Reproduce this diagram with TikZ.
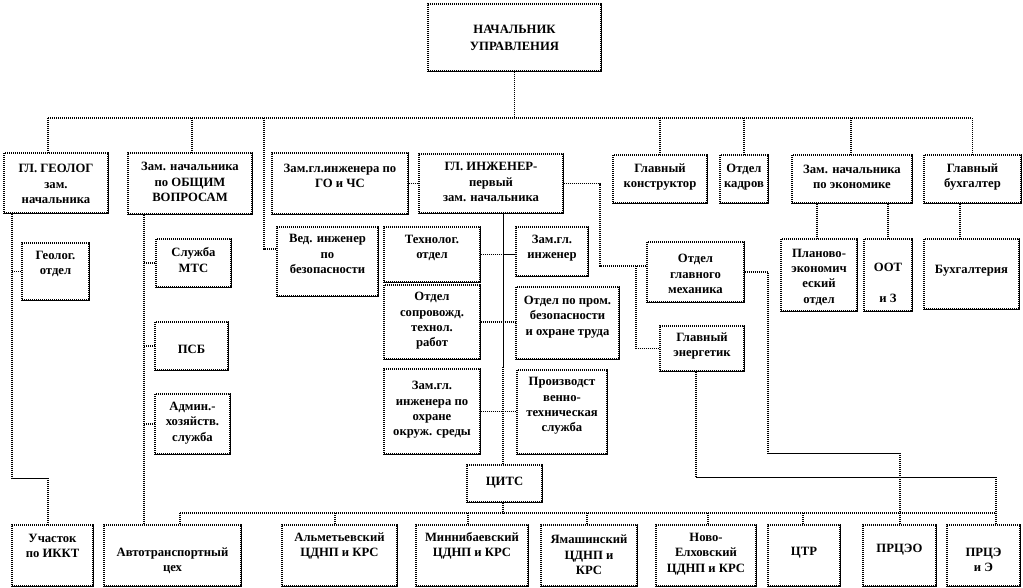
\documentclass[tikz,border=0pt]{standalone}
\usepackage{fontspec}
\setmainfont{Liberation Serif}
\begin{document}
\begin{tikzpicture}[x=0.75pt,y=-0.75pt,
  box/.style={draw=black, line width=0.8pt, dash pattern=on 0.75pt off 0.75pt, inner sep=0pt, fill=white},
  edge/.style={draw=black, line width=0.7pt},
  txt/.style={align=center, inner sep=0pt, font=\fontsize{9.5}{11.5}\selectfont\bfseries},
  dl/.style={draw=black, line width=0.85pt, dash pattern=on 0.75pt off 0.75pt},
  sl/.style={draw=black, line width=0.7pt}]
\useasboundingbox[fill=white] (0,0) rectangle (1023,588);
\newcommand\bx[7]{%
  \node[box, minimum width={(#4-#2)*0.75pt}, minimum height={(#5-#3)*0.75pt}] (#1) at ({(#2+#4)/2},{(#3+#5)/2}) {};
  \node[txt] (#1t) at ({(#2+#4)/2},#6) {#7};}
% boxes
\bx{nach}{428}{4}{601}{71}{38}{НАЧАЛЬНИК\\[0.8pt]УПРАВЛЕНИЯ}
\bx{geo}{4}{153}{108}{213}{184}{ГЛ. ГЕОЛОГ\\зам.\\начальника}
\bx{obsh}{128}{153}{252}{214}{182}{Зам. начальника\\по ОБЩИМ\\ВОПРОСАМ}
\bx{gochs}{272}{153}{408}{214}{176}{Зам.гл.инженера по\\ГО и ЧС}
\bx{glinzh}{419}{154}{563}{213}{182}{ГЛ. ИНЖЕНЕР-\\первый\\зам. начальника}
\bx{konstr}{613}{155}{707}{203}{177}{Главный\\конструктор}
\bx{kadr}{720}{155}{768}{203}{177}{Отдел\\кадров}
\bx{econ}{792}{155}{912}{203}{177}{Зам. начальника\\по экономике}
\bx{buh}{924}{155}{1021}{203}{177}{Главный\\бухгалтер}
\bx{geoot}{22}{243}{89}{300}{264}{Геолог.\\отдел}
\bx{mts}{156}{239}{231}{287}{260}{Служба\\МТС}
\bx{psb}{155}{322}{228}{370}{349}{ПСБ}
\bx{adm}{155}{394}{230}{454}{423}{Админ.-\\хозяйств.\\служба}
\bx{ved}{277}{227}{378}{296}{254}{Вед. инженер\\по\\безопасности}
\bx{tehn}{384}{227}{480}{282}{248}{Технолог.\\отдел}
\bx{zamgl}{516}{227}{588}{276}{248}{Зам.гл.\\инженер}
\bx{meh}{647}{242}{744}{302}{274}{Отдел\\главного\\механика}
\bx{plan}{781}{239}{857}{311}{277}{Планово-\\экономич\\еский\\отдел}
\bx{oot}{864}{239}{912}{311}{283}{ООТ\\~\\и З}
\bx{buhg}{924}{239}{1019}{309}{271}{Бухгалтерия}
\bx{sopr}{384}{285}{480}{359}{321}{Отдел\\сопровожд.\\технол.\\работ}
\bx{prom}{516}{287}{619}{359}{317}{Отдел по пром.\\безопасности\\и охране труда}
\bx{energ}{660}{326}{744}{371}{346}{Главный\\энергетик}
\bx{ohr}{384}{369}{480}{454}{410}{Зам.гл.\\инженера по\\охране\\окруж. среды}
\bx{proizv}{517}{370}{607}{454}{406}{Производст\\венно-\\техническая\\служба}
\bx{cits}{467}{465}{542}{502}{483}{ЦИТС}
\bx{ikkt}{12}{525}{93}{586}{546}{Участок\\по ИККТ}
\bx{avto}{104}{525}{241}{586}{561}{Автотранспортный\\цех}
\bx{almet}{282}{525}{397}{586}{546}{Альметьевский\\ЦДНП и КРС}
\bx{minn}{416}{525}{528}{586}{546}{Миннибаевский\\ЦДНП и КРС}
\bx{yam}{541}{525}{637}{586}{555}{Ямашинский\\ЦДНП и\\КРС}
\bx{novo}{656}{525}{756}{586}{554}{Ново-\\Елховский\\ЦДНП и КРС}
\bx{ctr}{768}{525}{840}{586}{553}{ЦТР}
\bx{prceo}{863}{525}{936}{586}{550}{ПРЦЭО}
\bx{prce}{947}{525}{1020}{586}{560}{ПРЦЭ\\и Э}
\foreach \n in {nach,geo,obsh,gochs,glinzh,konstr,kadr,econ,buh,geoot,mts,psb,adm,ved,tehn,zamgl,meh,plan,oot,buhg,sopr,prom,energ,ohr,proizv,cits,ikkt,avto,almet,minn,yam,novo,ctr,prceo,prce}
  \draw[edge] (\n.north east) -- (\n.south east) -- (\n.south west);
% top bus
\coordinate (b0) at (48,118);
\coordinate (b9) at (972,118);
\draw[dl] (nach.south) -- (nach.south |- b0);
\draw[dl] (b0) -- (b9);
\draw[dl] (b0) -- (48,0 |- geo.north);
\draw[dl] (192,118) -- (192,0 |- obsh.north);
\draw[dl] (264,118) |- ([yshift=9.4pt]ved.west);
\draw[dl] (konstr.north |- b0) -- (konstr.north);
\draw[dl] (kadr.north |- b0) -- (kadr.north);
\draw[dl] (851,118) -- (851,0 |- econ.north);
\draw[dl] (buh.north |- b0) -- (buh.north);
% geologist branch
\draw[dl] (12,0 |- geo.south) -- (12,478);
\draw[dl] (12,0 |- geoot.west) -- (geoot.west);
\draw[sl] (12,478) -- (48,478);
\draw[dl] (48,478) -- (48,0 |- ikkt.north);
% general affairs branch
\draw[dl] (144,0 |- obsh.south) -- (144,0 |- avto.north);
\draw[dl] (144,0 |- mts.west) -- (mts.west);
\draw[dl] (144,0 |- psb.west) -- (psb.west);
\draw[dl] (144,0 |- adm.west) -- (adm.west);
% chief engineer
\draw[dl] (gochs.east) -- (gochs.east -| glinzh.west);
\draw[dl] (glinzh.east) -| (600,266) -- (meh.west |- 0,266);
\draw[dl] (636,266) |- (energ.west);
\draw[sl] (503,0 |- glinzh.south) -- (503,367);
\draw[dl] (503,367) -- (503,0 |- cits.north);
\draw[dl] (tehn.east) -- (503,0 |- tehn.east);
\draw[sl] (503,0 |- tehn.east) -- (tehn.east -| zamgl.west);
\draw[dl] (sopr.east) -- (sopr.east -| prom.west);
\draw[dl] (ohr.east) -- (ohr.east -| proizv.west);
% bottom bus
\draw[dl] (503,0 |- cits.south) -- (503,513);
\draw[dl] (180,513) -- (996,513);
\draw[dl] (180,513) -- (180,0 |- avto.north);
\draw[dl] (335,513) -- (335,0 |- almet.north);
\draw[dl] (468,513) -- (468,0 |- minn.north);
\draw[dl] (587,513) -- (587,0 |- yam.north);
\draw[dl] (708,513) -- (708,0 |- novo.north);
\draw[dl] (803,513) -- (803,0 |- ctr.north);
% mechanic / energetic
\draw[dl] (meh.east) -| (768,453);
\draw[sl] (768,453) -- (900,453);
\draw[dl] (900,453) -- (900,0 |- prceo.north);
\draw[dl] (696,0 |- energ.south) -- (696,477);
\draw[sl] (696,477) -- (996,477);
\draw[dl] (996,477) -- (996,0 |- prce.north);
% economics
\draw[dl] (817,0 |- econ.south) -- (817,0 |- plan.north);
\draw[dl] (oot.north |- econ.south) -- (oot.north);
\draw[dl] (960,0 |- buh.south) -- (960,0 |- buhg.north);
\end{tikzpicture}
\end{document}
